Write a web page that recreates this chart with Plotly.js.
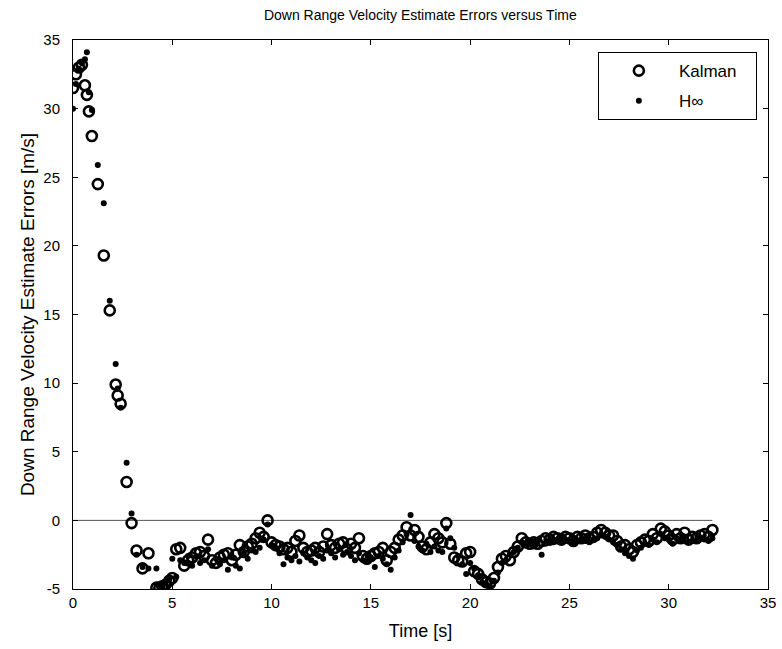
<!DOCTYPE html>
<html>
<head>
<meta charset="utf-8">
<script src="https://cdn.plot.ly/plotly-3.0.1.min.js"></script>
<style>html,body{margin:0;padding:0;background:#fff;}#chart{width:782px;height:649px;}</style>
</head>
<body>
<div id="chart"></div>
<script>
// Time samples [s]
const timeS = [
  0.0, 0.15, 0.3, 0.45, 0.6, 0.7, 0.8, 0.95, 1.25, 1.55, 1.85, 2.15, 2.25, 2.4, 2.7, 2.95,
  3.2, 3.5, 3.8, 4.2, 4.35, 4.5, 4.65, 4.85,
  5.0, 5.2, 5.4, 5.6, 5.8, 6.0, 6.2, 6.4, 6.6, 6.8, 7.0, 7.2, 7.4, 7.6, 7.8,
  8.0, 8.2, 8.4, 8.6, 8.8, 9.0, 9.2, 9.4, 9.6, 9.8, 10.0, 10.2, 10.4, 10.6, 10.8,
  11.0, 11.2, 11.4, 11.6, 11.8, 12.0, 12.2, 12.4, 12.6, 12.8, 13.0, 13.2, 13.4, 13.6, 13.8,
  14.0, 14.2, 14.4, 14.6, 14.8, 15.0, 15.2, 15.4, 15.6, 15.8, 16.0, 16.2, 16.4, 16.6, 16.8,
  17.0, 17.2, 17.4, 17.6, 17.8, 18.0, 18.2, 18.4, 18.6, 18.8, 19.0, 19.2, 19.4, 19.6, 19.8,
  20.0, 20.2, 20.4, 20.6, 20.8, 21.0, 21.2, 21.4, 21.6, 21.8, 22.0, 22.2, 22.4, 22.6, 22.8,
  23.0, 23.2, 23.4, 23.6, 23.8, 24.0, 24.2, 24.4, 24.6, 24.8, 25.0, 25.2, 25.4, 25.6, 25.8,
  26.0, 26.2, 26.4, 26.6, 26.8, 27.0, 27.2, 27.4, 27.6, 27.8, 28.0, 28.2, 28.4, 28.6, 28.8,
  29.0, 29.2, 29.4, 29.6, 29.8, 30.0, 30.2, 30.4, 30.6, 30.8, 31.0, 31.2, 31.4, 31.6, 31.8,
  32.0, 32.2
];
// Kalman filter down range velocity estimate errors [m/s]
const kalmanErr = [
  31.5, 32.5, 33.0, 33.2, 31.7, 31.0, 29.8, 28.0, 24.5, 19.3, 15.3, 9.9, 9.1, 8.5, 2.8, -0.2,
  -2.2, -3.5, -2.4, -4.9, -4.9, -4.8, -4.7, -4.4,
  -4.2, -2.1, -2.0, -3.3, -2.9, -2.7, -2.4, -2.3, -2.6, -1.4, -2.9, -3.1, -2.7, -2.5, -2.4,
  -2.9, -2.5, -1.8, -2.3, -1.9, -1.7, -1.3, -0.9, -1.2, 0.0, -1.6, -1.8, -1.9, -2.1, -2.0,
  -2.3, -1.5, -1.1, -2.0, -2.3, -2.2, -2.0, -2.3, -1.9, -1.0, -1.8, -2.0, -1.7, -1.6, -2.1,
  -1.7, -2.0, -1.3, -2.6, -2.8, -2.6, -2.4, -2.3, -2.0, -2.9, -2.3, -2.0, -1.4, -1.1, -0.5,
  -1.1, -0.7, -1.2, -1.9, -2.1, -1.6, -1.0, -1.3, -1.6, -0.2, -1.7, -2.7, -2.9, -3.0, -2.4,
  -2.3, -3.7, -3.9, -4.3, -4.5, -4.6, -4.2, -3.4, -2.8, -2.6, -2.9, -2.3, -1.9, -1.3, -1.6,
  -1.7, -1.6, -1.7, -1.5, -1.3, -1.4, -1.2, -1.3, -1.4, -1.2, -1.3, -1.5, -1.2, -1.3, -1.1,
  -1.3, -1.2, -0.9, -0.7, -0.9, -1.1, -1.1, -1.5, -1.9, -1.8, -2.1, -2.3, -1.8, -1.6, -1.4,
  -1.5, -1.0, -1.3, -0.6, -0.8, -1.1, -1.4, -1.0, -1.3, -0.9, -1.4, -1.2, -1.3, -1.1, -1.0,
  -1.2, -0.7
];
// H-infinity filter down range velocity estimate errors [m/s]
const hinfErr = [
  30.0, 31.8, 32.9, 33.3, 33.6, 34.1, 31.2, 29.9, 25.9, 23.1, 16.0, 11.4, 9.6, 8.2, 4.2, 0.5,
  -2.5, -3.4, -3.5, -3.5, -4.8, -4.7, -4.6, -4.3,
  -2.8, -4.1, -2.9, -3.1, -2.6, -3.3, -2.6, -3.1, -2.9, -2.1, -3.3, -2.8, -3.2, -2.9, -3.6,
  -2.7, -3.3, -3.5, -2.4, -2.8, -2.2, -2.3, -2.0, -1.4, -0.3, -1.8, -2.0, -2.4, -3.2, -2.7,
  -2.9, -2.6, -3.0, -2.4, -2.7, -2.9, -3.1, -2.6, -2.8, -2.2, -2.4, -2.7, -2.1, -2.5, -2.3,
  -2.6, -2.9, -2.4, -2.9, -3.0, -2.7, -3.4, -2.6, -2.8, -3.2, -3.6, -2.7, -2.2, -1.6, -1.0,
  0.4, -1.5, -1.9, -2.2, -1.7, -2.3, -1.9, -2.2, -2.3, -0.6, -1.3, -2.0, -2.6, -3.2, -3.9,
  -3.1, -3.5, -4.0, -4.5, -4.6, -4.8, -4.4, -3.8, -3.1, -2.9, -2.5, -2.3, -2.0, -1.6, -1.8,
  -1.5, -1.9, -1.6, -2.5, -1.7, -1.5, -1.6, -1.4, -1.6, -1.5, -1.4, -1.6, -1.5, -1.4, -1.5,
  -1.6, -1.4, -1.3, -1.1, -1.2, -1.4, -1.6, -1.8, -2.1, -2.4, -2.6, -2.8, -2.2, -2.0, -1.7,
  -1.8, -1.4, -1.6, -1.0, -1.3, -1.4, -1.7, -1.3, -1.5, -1.2, -1.6, -1.5, -1.5, -1.3, -1.4,
  -1.5, -1.3
];
const xTicks = [0, 5, 10, 15, 20, 25, 30, 35];
const yTicks = [-5, 0, 5, 10, 15, 20, 25, 30, 35];

const FONT = 'Liberation Sans, Arial, sans-serif';

const zeroX = [timeS[0], timeS[timeS.length - 1]];
const zeroY = [0, 0];

const traces = [
  {
    x: zeroX, y: zeroY, mode: 'lines', type: 'scatter',
    line: {color: '#555555', width: 1}, showlegend: false, hoverinfo: 'skip'
  },
  {
    x: timeS, y: kalmanErr, mode: 'markers', type: 'scatter', name: 'Kalman\u00a0\u00a0\u00a0',
    legendgroup: 'k',
    marker: {symbol: 'circle-open', size: 10, color: '#000', line: {width: 2.6, color: '#000'}}
  },
  {
    x: timeS, y: hinfErr, mode: 'markers', type: 'scatter', name: 'H∞',
    legendgroup: 'h',
    marker: {symbol: 'circle', size: 6, color: '#000'}
  }
];

const axisCommon = {
  showgrid: false, zeroline: false, showline: true, mirror: 'ticks',
  linecolor: '#000', linewidth: 1, ticks: 'inside', ticklen: 5, tickwidth: 1, tickcolor: '#000',
  tickfont: {family: FONT, size: 15, color: '#000'}
};

const layout = {
  width: 782, height: 649,
  paper_bgcolor: '#fff', plot_bgcolor: '#fff',
  margin: {l: 73, r: 14, t: 40, b: 60},
  font: {family: FONT, size: 15, color: '#000'},
  title: {text: 'Down Range Velocity Estimate Errors versus Time', font: {family: FONT, size: 14, color: '#000'},
          x: 0.5375, xanchor: 'center', y: 0.985, yanchor: 'top'},
  xaxis: Object.assign({}, axisCommon, {
    range: [0, 35], tickvals: xTicks, ticktext: xTicks.map(String),
    title: {text: 'Time [s]', font: {family: FONT, size: 18, color: '#000'}, standoff: 14}
  }),
  yaxis: Object.assign({}, axisCommon, {
    range: [-5, 35], tickvals: yTicks, ticktext: yTicks.map(String),
    title: {text: 'Down Range Velocity Estimate Errors [m/s]', font: {family: FONT, size: 19, color: '#000'}, standoff: 12}
  }),
  legend: {
    x: 0.984, y: 0.978, xanchor: 'right', yanchor: 'top',
    bgcolor: '#fff', bordercolor: '#000', borderwidth: 1,
    font: {family: FONT, size: 17, color: '#000'},
    traceorder: 'grouped', tracegroupgap: 5, itemwidth: 70
  },
  showlegend: true
};

Plotly.newPlot('chart', traces, layout, {displayModeBar: false, staticPlot: true}).then(function (gd) {
  // push y tick labels a little further from the axis, as in the reference
  gd.querySelectorAll('.yaxislayer-above .ytick text').forEach(function (t) {
    const x = parseFloat(t.getAttribute('x') || '0');
    t.setAttribute('x', x - 9);
  });
});
</script>
</body>
</html>
